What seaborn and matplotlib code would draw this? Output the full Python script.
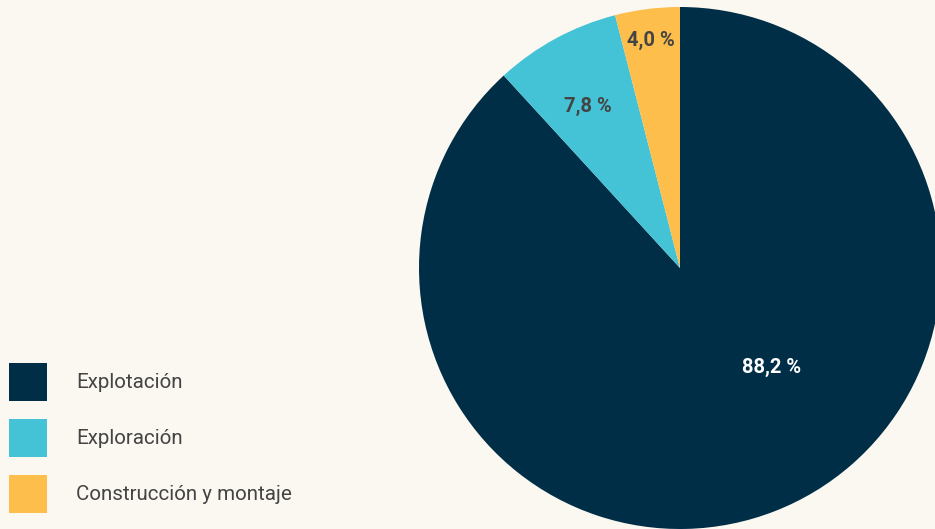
import matplotlib
matplotlib.use("Agg")
import matplotlib.pyplot as plt
import seaborn as sns

# Shares by activity
categories = ["Explotación", "Exploración", "Construcción y montaje"]
shares = [88.2, 7.8, 4.0]
colors = ["#012E47", "#45C3D6", "#FDBE4B"]
label_colors = ["#FFFFFF", "#444444", "#444444"]

bg = "#FBF8F1"
sns.set_theme(style="white", rc={"figure.facecolor": bg, "axes.facecolor": bg,
                                 "savefig.facecolor": bg})
plt.rcParams["font.family"] = ["Roboto", "DejaVu Sans"]

W, H = 935, 529
fig = plt.figure(figsize=(W / 100, H / 100), dpi=100)

cx, cy, r = 680, 268, 261
ax = fig.add_axes([(cx - r) / W, (H - cy - r) / H, 2 * r / W, 2 * r / H])
wedges, _ = ax.pie(shares, colors=sns.color_palette(colors), startangle=90,
                   counterclock=False, radius=1.0,
                   wedgeprops=dict(linewidth=0))
for w in wedges:
    w.set_clip_on(False)
ax.set_xlim(-1, 1)
ax.set_ylim(-1, 1)
ax.set_aspect("equal")
ax.axis("off")

# Label positions inside each slice (in pie radius units)
label_pos = [(0.35, -0.38), (-0.352, 0.62), (-0.11, 0.872)]
for val, (x, y), c in zip(shares, label_pos, label_colors):
    ax.text(x, y, f"{val:.1f}".replace(".", ",") + " %", ha="center", va="center",
            fontsize=14.5, fontweight="bold", color=c)

# Legend with square swatches
fs = 14.8
px = fs * 100 / 72
side = 38 / px                       # swatch side in font-size units
hh = (side - 0.245) / 0.65           # handleheight giving that patch height
leg = fig.legend(wedges, categories, loc="lower left",
                 bbox_to_anchor=(9 / W, 16 / H), bbox_transform=fig.transFigure,
                 frameon=False, fontsize=fs, borderpad=0, borderaxespad=0,
                 handlelength=side, handleheight=hh,
                 labelspacing=18 / px, handletextpad=29 / px)
for t in leg.get_texts():
    t.set_color("#444444")

fig.savefig("out.png", dpi=100, facecolor=bg)
